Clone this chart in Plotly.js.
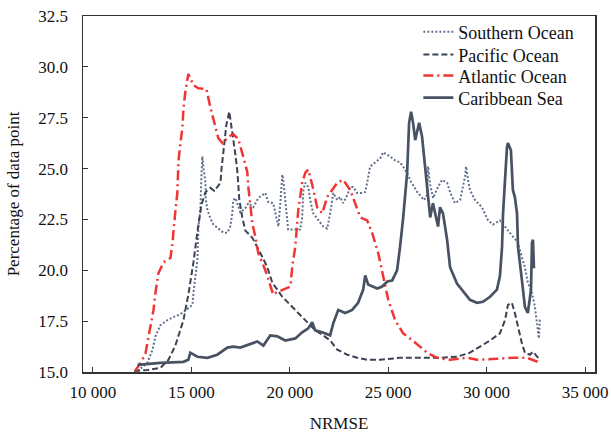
<!DOCTYPE html>
<html>
<head>
<meta charset="utf-8">
<script src="https://cdn.plot.ly/plotly-3.0.1.min.js"></script>
<style>html,body{margin:0;padding:0;background:#fff}#chart{width:611px;height:434px}</style>
</head>
<body>
<div id="chart"></div>
<script>
// Southern Ocean
const southernX = [12270,12770,13030,13180,13430,13790,14090,14350,14600,14850,15060,15110,15210,15310,15360,15460,15510,15560,15610,15720,15740,15820,15970,16120,16370,16630,16830,16980,17080,17130,17240,17490,17740,17900,18150,18400,18760,18910,19160,19420,19520,19620,19670,19770,19870,19920,20530,20630,20690,20790,20940,21040,21190,21450,21700,21900,22050,22210,22410,22560,22710,22920,23070,23220,23420,23680,23830,23930,24080,24340,24590,24740,25100,25350,25600,25860,26160,26470,26820,26970,27020,27130,27280,27530,27730,27990,28140,28390,28650,28900,28950,29050,29150,29410,29760,30070,30320,30670,31030,31330,31590,31790,31940,32090,32300,32450,32550,32650,32700,32750];
const southernY = [15.05,15.45,16.1,16.75,17.3,17.55,17.7,17.8,17.95,18.15,18.3,18.9,19.7,20.5,22.15,22.95,24.6,25.6,25.1,24.3,23.45,22.95,22.55,22.25,22.05,21.85,21.85,22.15,22.8,23.45,23.55,22.85,23.05,23.3,23.1,23.55,23.8,23.35,23.3,22.15,23.3,24.7,24.45,23.45,22.65,22.0,22.0,22.6,23.95,24.3,24.1,23.45,22.8,22.45,22.15,22.05,22.8,23.8,23.45,23.6,23.3,23.7,24.1,24.1,23.8,23.8,23.85,24.3,25.1,25.3,25.5,25.8,25.6,25.4,25.3,24.95,24.35,23.85,23.45,23.7,25.1,24.2,23.55,24.1,24.45,24.3,23.85,23.3,23.45,24.6,25.1,24.45,23.95,23.45,23.1,22.45,22.25,22.45,22.0,21.65,21.35,20.65,20.15,19.4,18.9,18.2,17.3,16.65,17.55,17.65];

// Pacific Ocean
const pacificX = [12100,12800,13430,13840,14190,14600,14850,15110,15310,15510,15720,15970,16170,16370,16480,16530,16630,16780,16930,17030,17130,17230,17340,17390,17440,17590,17740,18100,18350,18610,18860,19110,19620,20130,20530,20940,21290,21700,22050,22410,22920,23420,23930,24590,25600,26620,27630,28490,29150,29660,30170,30670,30930,31080,31280,31430,31590,31790,31940,32200,32350,32550,32700];
const pacificY = [15.05,15.1,15.2,15.6,16.3,17.55,18.8,20.4,21.9,23.2,23.85,24.05,23.9,24.15,24.3,24.95,25.75,27.15,27.8,27.15,26.55,25.75,24.85,24.1,23.45,22.6,21.95,21.6,21.15,20.65,20.15,19.4,18.7,18.2,17.8,17.4,17.05,16.8,16.55,16.1,15.85,15.7,15.6,15.6,15.7,15.7,15.7,15.75,15.95,16.25,16.55,16.9,17.55,18.3,18.4,17.9,17.2,16.4,15.95,15.85,16.0,15.75,15.6];

// Atlantic Ocean
const atlanticX = [12150,12420,12670,12930,13080,13180,13330,13590,13940,14040,14090,14190,14290,14350,14450,14550,14600,14700,14850,15110,15360,15770,15970,16170,16370,16580,16880,17130,17390,17590,17840,17900,18100,18250,18400,18760,19010,19160,19310,20030,20130,20280,20430,20630,20790,20940,21140,21390,21650,21900,22410,22710,23070,23320,23580,23930,24180,24490,24740,25000,25350,25760,26360,26970,27480,28140,29000,29510,30520,31330,32040,32350,32600];
const atlanticY = [15.05,15.45,15.9,17.2,18.05,18.9,19.85,20.4,20.6,21.3,22.0,22.9,23.8,25.4,26.25,27.05,27.95,28.8,29.65,29.1,28.95,28.9,28.0,27.25,26.5,26.25,26.55,26.7,26.45,25.75,24.85,24.05,22.3,21.65,20.85,20.0,19.2,18.8,18.9,19.2,20.2,21.15,22.95,24.3,24.8,24.95,24.2,23.1,22.8,23.6,24.3,24.45,23.95,23.3,22.6,22.45,21.85,20.85,19.7,18.55,17.55,16.9,16.45,15.95,15.7,15.6,15.7,15.6,15.65,15.7,15.7,15.6,15.5];

// Caribbean Sea
const caribbeanX = [12270,13430,14600,14850,14950,15310,15820,16320,16830,17130,17490,18000,18350,18660,19010,19370,19770,20280,20630,20940,21140,21290,21650,22050,22210,22460,22820,23170,23470,23730,23830,23980,24440,24690,24950,25200,25450,25600,25760,25960,26060,26160,26260,26370,26470,26570,26720,26870,27020,27130,27270,27380,27530,27630,27780,27990,28140,28490,28800,29150,29510,29810,30170,30520,30670,30780,30830,30930,31030,31080,31230,31330,31430,31540,31590,31790,31940,32090,32250,32300,32350,32400];
const caribbeanY = [15.35,15.45,15.5,15.6,15.95,15.75,15.7,15.85,16.2,16.25,16.2,16.4,16.5,16.3,16.8,16.75,16.55,16.65,16.95,17.15,17.45,17.05,16.95,16.8,17.4,18.05,17.9,18.05,18.4,19.05,19.75,19.3,19.1,19.2,19.45,19.5,20.0,21.15,22.6,24.8,27.25,27.8,27.25,26.4,26.9,27.25,26.55,25.1,23.45,22.6,23.3,22.8,22.15,23.1,22.8,21.5,20.15,19.35,18.95,18.55,18.4,18.45,18.7,19.05,19.7,21.15,22.8,24.45,26.05,26.25,25.9,23.95,23.6,22.8,21.15,19.5,18.2,17.9,19.05,21.35,21.5,20.1];

const seriesNames = ['Southern Ocean','Pacific Ocean','Atlantic Ocean','Caribbean Sea'];
const xTicks = [10000,15000,20000,25000,30000,35000];
const yTicks = [15,17.5,20,22.5,25,27.5,30,32.5];

const fam = '"Liberation Serif", "Times New Roman", serif';
const tickFont = {family: fam, size: 17, color: '#111'};
const titleFont = {family: fam, size: 17, color: '#111'};
const legendFont = {family: fam, size: 18, color: '#111'};

const traces = [
  {x: southernX, y: southernY, name: seriesNames[0], legend: 'legend', mode: 'lines', line: {color: '#62708e', width: 2, dash: '2px,2px'}},
  {x: pacificX, y: pacificY, name: seriesNames[1], legend: 'legend2', mode: 'lines', line: {color: '#3a4253', width: 2, dash: '6px,3px'}},
  {x: atlanticX, y: atlanticY, name: seriesNames[2], legend: 'legend3', mode: 'lines', line: {color: '#f03535', width: 2.5, dash: '10px,4px,2px,4px'}},
  {x: caribbeanX, y: caribbeanY, name: seriesNames[3], legend: 'legend4', mode: 'lines', line: {color: '#485263', width: 2.7}}
];

function leg(yc) {
  return {x: 0.655, y: yc, xanchor: 'left', yanchor: 'middle', bgcolor: 'rgba(0,0,0,0)', font: legendFont, itemwidth: 30};
}

const layout = {
  width: 611, height: 434,
  margin: {l: 83, r: 16, t: 16, b: 62},
  paper_bgcolor: '#fff', plot_bgcolor: '#fff',
  font: tickFont,
  separators: '. ',
  showlegend: true,
  legend: leg(0.955),
  legend2: leg(0.891),
  legend3: leg(0.832),
  legend4: leg(0.770),
  xaxis: {
    range: [9500, 35500], tickvals: xTicks, tickformat: ',d',
    ticks: 'inside', ticklen: 5, tickcolor: '#333', showgrid: false, zeroline: false,
    showline: true, linecolor: '#333', linewidth: 1.5, mirror: true,
    tickfont: tickFont, ticklabelstandoff: 4,
    title: {text: 'NRMSE', font: titleFont, standoff: 16}
  },
  yaxis: {
    range: [15, 32.5], tickvals: yTicks, tickformat: '.1f',
    ticks: 'inside', ticklen: 5, tickcolor: '#333', showgrid: false, zeroline: false,
    showline: true, linecolor: '#333', linewidth: 1.5, mirror: true,
    tickfont: tickFont, ticklabelstandoff: 10,
    title: {text: 'Percentage of data point', font: titleFont, standoff: 14}
  }
};

Plotly.newPlot('chart', traces, layout, {displayModeBar: false, staticPlot: true});
</script>
</body>
</html>
